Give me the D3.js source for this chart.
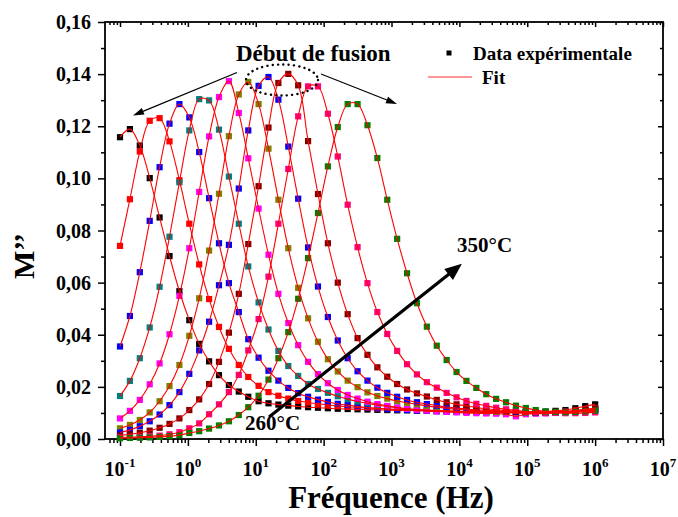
<!DOCTYPE html>
<html><head><meta charset="utf-8">
<script src="https://cdn.jsdelivr.net/npm/d3@7"></script>
<style>
body{margin:0;background:#fff}
svg{display:block}
text{font-family:"Liberation Serif","Times New Roman",serif;font-weight:bold;fill:#000}
</style>
</head><body>
<svg id="chart" width="678" height="517"></svg>
<script>
// ---------- DATA ----------
const frequencies = [0.1,0.13990,0.19573,0.27384,0.38312,0.53600,0.74989,1.0491,1.4678,2.0535,2.8730,4.0194,5.6234,7.7576,11.007,15.399,21.544,30.142,42.170,58.997,82.540,115.48,161.56,226.03,316.23,442.42,618.97,865.96,1211.5,1695.0,2371.4,3317.7,4641.6,6493.8,9085.2,12711,17783,24879,34807,48697,68129,95316,133352,186566,261016,365174,510897,714771,1000000];

const temperatures = ["260","270","280","290","300","310","320","330","340","350"];
const seriesColors = ["#000000","#ff0000","#0000ff","#008080","#ff00ff","#808000","#0000ff","#800000","#ff0080","#008000"];

const m260 = [0.1158,0.1189,0.1126,0.1001,0.0850,0.0702,0.0567,0.0456,0.0365,0.0298,0.0245,0.0207,0.0182,0.0162,0.0145,0.0137,0.0132,0.0128,0.0125,0.0122,0.0120,0.0118,0.0116,0.0115,0.0114,0.0113,0.0112,0.0111,0.0110,0.0110,0.0109,0.0108,0.0107,0.0106,0.0106,0.0105,0.0104,0.0103,0.0103,0.0102,0.0102,0.0102,0.0103,0.0105,0.0108,0.0111,0.0118,0.0126,0.0133];
const m270 = [0.0741,0.0920,0.1103,0.1221,0.1231,0.1142,0.0993,0.0826,0.0670,0.0537,0.0430,0.0346,0.0284,0.0238,0.0204,0.0180,0.0166,0.0155,0.0146,0.0140,0.0135,0.0131,0.0127,0.0124,0.0121,0.0119,0.0117,0.0115,0.0113,0.0112,0.0110,0.0109,0.0108,0.0107,0.0106,0.0105,0.0104,0.0103,0.0102,0.0102,0.0101,0.0101,0.0101,0.0102,0.0104,0.0106,0.0110,0.0114,0.0119];
const m280 = [0.0355,0.0472,0.0640,0.0837,0.1043,0.1210,0.1285,0.1234,0.1101,0.0924,0.0751,0.0598,0.0487,0.0383,0.0312,0.0262,0.0224,0.0196,0.0176,0.0162,0.0151,0.0142,0.0135,0.0130,0.0125,0.0121,0.0118,0.0115,0.0113,0.0111,0.0109,0.0108,0.0107,0.0106,0.0105,0.0104,0.0103,0.0102,0.0101,0.0101,0.0100,0.0100,0.0100,0.0101,0.0102,0.0104,0.0107,0.0110,0.0113];
const m290 = [0.0165,0.0223,0.0310,0.0428,0.0584,0.0776,0.0985,0.1184,0.1304,0.1299,0.1187,0.1007,0.0826,0.0662,0.0524,0.0420,0.0338,0.0280,0.0242,0.0211,0.0192,0.0177,0.0164,0.0153,0.0144,0.0137,0.0130,0.0125,0.0120,0.0116,0.0113,0.0111,0.0109,0.0107,0.0106,0.0105,0.0104,0.0103,0.0102,0.0101,0.0101,0.0100,0.0100,0.0101,0.0102,0.0104,0.0106,0.0109,0.0112];
const m300 = [0.0079,0.0108,0.0150,0.0210,0.0290,0.0402,0.0549,0.0732,0.0948,0.1161,0.1312,0.1373,0.1251,0.1077,0.0884,0.0707,0.0557,0.0445,0.0360,0.0296,0.0249,0.0214,0.0188,0.0169,0.0155,0.0143,0.0134,0.0127,0.0121,0.0116,0.0112,0.0109,0.0106,0.0104,0.0102,0.0100,0.0099,0.0098,0.0097,0.0095,0.0087,0.0095,0.0097,0.0098,0.0100,0.0101,0.0103,0.0105,0.0107];
const m310 = [0.0041,0.0054,0.0073,0.0102,0.0145,0.0203,0.0284,0.0396,0.0540,0.0723,0.0941,0.1162,0.1322,0.1370,0.1285,0.1114,0.0918,0.0732,0.0580,0.0463,0.0373,0.0306,0.0259,0.0224,0.0199,0.0179,0.0165,0.0155,0.0146,0.0139,0.0133,0.0127,0.0122,0.0118,0.0114,0.0111,0.0108,0.0106,0.0104,0.0103,0.0102,0.0101,0.0101,0.0101,0.0102,0.0104,0.0106,0.0109,0.0112];
const m320 = [0.0025,0.0035,0.0049,0.0068,0.0094,0.0130,0.0180,0.0250,0.0340,0.0450,0.0590,0.0745,0.0961,0.1184,0.1355,0.1389,0.1302,0.1122,0.0922,0.0735,0.0585,0.0468,0.0378,0.0310,0.0260,0.0224,0.0197,0.0177,0.0162,0.0150,0.0141,0.0134,0.0128,0.0123,0.0119,0.0115,0.0112,0.0110,0.0108,0.0106,0.0104,0.0103,0.0102,0.0102,0.0103,0.0104,0.0106,0.0108,0.0110];
const m330 = [0.0013,0.0018,0.0024,0.0032,0.0043,0.0058,0.0079,0.0111,0.0152,0.0211,0.0296,0.0408,0.0557,0.0748,0.0970,0.1195,0.1366,0.1401,0.1357,0.1143,0.0940,0.0751,0.0600,0.0479,0.0387,0.0323,0.0275,0.0239,0.0211,0.0190,0.0175,0.0163,0.0150,0.0141,0.0133,0.0127,0.0121,0.0116,0.0112,0.0109,0.0106,0.0104,0.0103,0.0102,0.0103,0.0105,0.0108,0.0112,0.0117];
const m340 = [0.0006,0.0007,0.0008,0.0010,0.0013,0.0018,0.0026,0.0041,0.0060,0.0095,0.0133,0.0180,0.0246,0.0340,0.0460,0.0623,0.0826,0.1036,0.1238,0.1353,0.1353,0.1248,0.1084,0.0899,0.0736,0.0598,0.0487,0.0403,0.0338,0.0287,0.0248,0.0218,0.0197,0.0177,0.0160,0.0146,0.0135,0.0127,0.0120,0.0114,0.0110,0.0106,0.0103,0.0101,0.0100,0.0099,0.0099,0.0100,0.0102];
const m350 = [0.0003,0.0004,0.0005,0.0006,0.0008,0.0011,0.0015,0.0023,0.0030,0.0040,0.0052,0.0068,0.0092,0.0122,0.0166,0.0228,0.0310,0.0410,0.0538,0.0694,0.0867,0.1046,0.1197,0.1285,0.1285,0.1204,0.1078,0.0918,0.0768,0.0636,0.0521,0.0431,0.0358,0.0303,0.0257,0.0223,0.0196,0.0172,0.0154,0.0141,0.0128,0.0119,0.0111,0.0106,0.0104,0.0103,0.0104,0.0106,0.0109];

const seriesValues = [m260,m270,m280,m290,m300,m310,m320,m330,m340,m350];

const xTickValues = [1e-1,1e0,1e1,1e2,1e3,1e4,1e5,1e6,1e7];
const xTickExponents = ["-1","0","1","2","3","4","5","6","7"];
const yTickValues = [0,0.02,0.04,0.06,0.08,0.10,0.12,0.14,0.16];

// ---------- LAYOUT ----------
const svg = d3.select("#chart");
const L = 105, R = 663, T = 22, B = 439;
const x = d3.scaleLog().domain([0.0601, 1e7]).range([L, R]);
const y = d3.scaleLinear().domain([0, 0.16]).range([B, T]);
const fr = d3.formatLocale({decimal: ",", thousands: ".", grouping: [3], currency: ["", ""]});
const yFmt = fr.format(".2f");

svg.append("rect").attr("width",678).attr("height",517).attr("fill","#fff");

// minor tick values
const xMinor = [];
for (let d = -2; d <= 6; d++) for (let k = 2; k <= 9; k++) { const v = k * Math.pow(10, d); if (v >= 0.0601 && v <= 1e7) xMinor.push(v); }
const yMinor = d3.range(1, 16, 2).map(k => k * 0.01);

function styleAxis(g){ g.select(".domain").remove(); g.selectAll("line").attr("stroke","#000").attr("stroke-width",1.5); }

// bottom axis (outward)
svg.append("g").attr("transform",`translate(0,${B})`).call(d3.axisBottom(x).tickValues(xTickValues).tickSize(7).tickFormat("")).call(styleAxis);
svg.append("g").attr("transform",`translate(0,${B})`).call(d3.axisBottom(x).tickValues(xMinor).tickSize(4).tickFormat("")).call(styleAxis);
// top axis (inward)
svg.append("g").attr("transform",`translate(0,${T})`).call(d3.axisBottom(x).tickValues(xTickValues).tickSize(5).tickFormat("")).call(styleAxis);
svg.append("g").attr("transform",`translate(0,${T})`).call(d3.axisBottom(x).tickValues(xMinor).tickSize(3).tickFormat("")).call(styleAxis);
// left axis (outward)
svg.append("g").attr("transform",`translate(${L},0)`).call(d3.axisLeft(y).tickValues(yTickValues).tickSize(7).tickFormat("")).call(styleAxis);
svg.append("g").attr("transform",`translate(${L},0)`).call(d3.axisLeft(y).tickValues(yMinor).tickSize(4).tickFormat("")).call(styleAxis);
// right axis (inward)
svg.append("g").attr("transform",`translate(${R},0)`).call(d3.axisLeft(y).tickValues(yTickValues).tickSize(5).tickFormat("")).call(styleAxis);
svg.append("g").attr("transform",`translate(${R},0)`).call(d3.axisLeft(y).tickValues(yMinor).tickSize(3).tickFormat("")).call(styleAxis);

// frame
svg.append("rect").attr("x",L).attr("y",T).attr("width",R-L).attr("height",B-T)
  .attr("fill","none").attr("stroke","#000").attr("stroke-width",1.8);

// y tick labels
svg.append("g").selectAll("text").data(yTickValues).join("text")
  .attr("x", 91).attr("y", d => y(d) + 7).attr("text-anchor","end")
  .attr("font-size", 20).text(d => yFmt(d));

// x tick labels
const xl = svg.append("g").selectAll("text").data(xTickValues).join("text")
  .attr("x", d => x(d)).attr("y", 476).attr("text-anchor","middle").attr("font-size", 20);
xl.append("tspan").text("10");
xl.append("tspan").attr("dy",-9).attr("font-size",13).text((d,i) => xTickExponents[i]);

// axis titles
svg.append("text").attr("x", 391).attr("y", 508).attr("text-anchor","middle").attr("font-size", 31).text("Fréquence (Hz)");
svg.append("text").attr("transform","translate(34,256) rotate(-90)").attr("text-anchor","middle").attr("font-size", 30).text("M’’");

// ---------- DATA MARKS ----------
const ms = 6.2;
seriesValues.forEach((vals, s) => {
  svg.append("g").selectAll("rect").data(vals).join("rect")
    .attr("x", (d,i) => x(frequencies[i]) - ms/2)
    .attr("y", d => y(d) - ms/2)
    .attr("width", ms).attr("height", ms)
    .attr("fill", seriesColors[s]);
});
const line = d3.line().x((d,i) => x(frequencies[i])).y(d => y(d)).curve(d3.curveCatmullRom.alpha(0.5));
seriesValues.forEach(vals => {
  svg.append("path").attr("d", line(vals)).attr("fill","none").attr("stroke","#ff0000").attr("stroke-width",1.1);
});

// ---------- ANNOTATIONS ----------
function arrow(x1,y1,x2,y2,w,hl,hw){
  svg.append("line").attr("x1",x1).attr("y1",y1).attr("x2",x2 - (x2-x1)/Math.hypot(x2-x1,y2-y1)*hl*0.8).attr("y2",y2 - (y2-y1)/Math.hypot(x2-x1,y2-y1)*hl*0.8)
    .attr("stroke","#000").attr("stroke-width",w);
  const a = Math.atan2(y2-y1,x2-x1);
  const bx = x2 - hl*Math.cos(a), by = y2 - hl*Math.sin(a);
  const p = [[x2,y2],[bx + hw*Math.sin(a), by - hw*Math.cos(a)],[bx - hw*Math.sin(a), by + hw*Math.cos(a)]];
  svg.append("path").attr("d","M"+p.map(q=>q.join(",")).join("L")+"Z").attr("fill","#000");
}
// big temperature arrow
arrow(x(15.7), y(0.0084), x(10900), y(0.0672), 3.2, 17, 7);
svg.append("text").attr("x",245).attr("y",430).attr("font-size",21).text("260°C");
svg.append("text").attr("x",457).attr("y",252).attr("font-size",21).text("350°C");

// "Début de fusion"
svg.append("text").attr("x",236).attr("y",61).attr("font-size",23).text("Début de fusion");
arrow(237,72.5,133,115.5,1.2,11,3.5);
arrow(321,74,397,104,1.2,11,3.5);
svg.append("ellipse").attr("cx",282).attr("cy",80).attr("rx",36).attr("ry",15.5)
  .attr("fill","none").attr("stroke","#000").attr("stroke-width",2.4)
  .attr("stroke-dasharray","0.1,5.2").attr("stroke-linecap","round");

// legend
svg.append("rect").attr("x",446.5).attr("y",50.5).attr("width",5).attr("height",5).attr("fill","#000");
svg.append("text").attr("x",473).attr("y",60).attr("font-size",19).text("Data expérimentale");
svg.append("line").attr("x1",428).attr("x2",472).attr("y1",77).attr("y2",77).attr("stroke","#ff3030").attr("stroke-width",1.2);
svg.append("text").attr("x",482).attr("y",84).attr("font-size",19).text("Fit");
</script>
</body></html>
